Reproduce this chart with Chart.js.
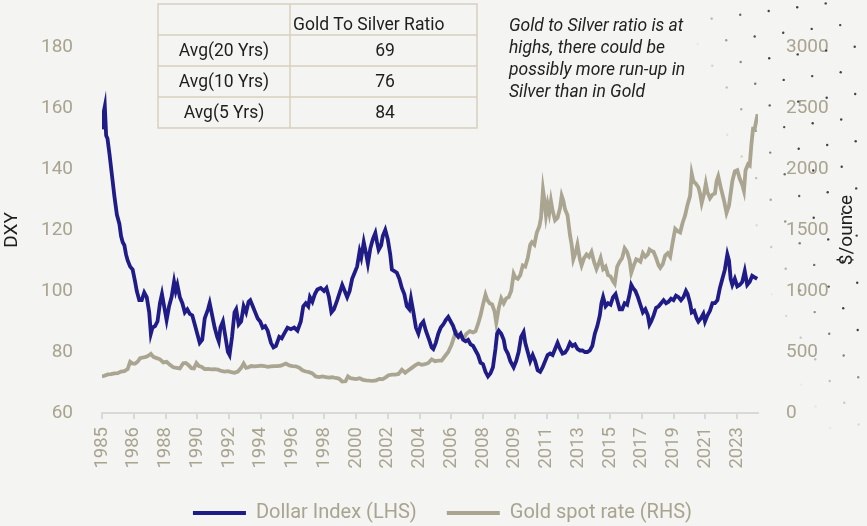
<!DOCTYPE html>
<html>
<head>
    <title></title>
    <meta charset="utf-8" />
    <style>
        body { margin: 0; background: #f4f4f2; }
        canvas { display: block; }
    </style>
    <script src="https://cdn.jsdelivr.net/npm/chart.js"></script>
</head>
<body>
    <canvas id="myChart" width="867" height="526"></canvas>
<script>
// values (decimal years)
let dxyYears = [1985.00, 1985.08, 1985.17, 1985.25, 1985.33, 1985.45, 1985.60, 1985.75, 1985.90, 1986.05, 1986.15, 1986.25, 1986.35, 1986.45, 1986.55, 1986.70, 1986.85, 1987.00, 1987.10, 1987.25, 1987.40, 1987.55, 1987.70, 1987.85, 1987.95, 1988.05, 1988.20, 1988.35, 1988.50, 1988.62, 1988.75, 1988.90, 1989.05, 1989.20, 1989.35, 1989.45, 1989.55, 1989.70, 1989.85, 1990.00, 1990.15, 1990.30, 1990.45, 1990.60, 1990.75, 1990.90, 1991.05, 1991.20, 1991.40, 1991.50, 1991.65, 1991.80, 1991.95, 1992.05, 1992.15, 1992.30, 1992.45, 1992.60, 1992.70, 1992.85, 1993.00, 1993.10, 1993.25, 1993.40, 1993.55, 1993.70, 1993.85, 1993.95, 1994.10, 1994.25, 1994.40, 1994.55, 1994.70, 1994.85, 1995.00, 1995.20, 1995.35, 1995.50, 1995.70, 1995.85, 1996.00, 1996.20, 1996.40, 1996.60, 1996.80, 1997.00, 1997.15, 1997.30, 1997.45, 1997.55, 1997.70, 1997.85, 1998.00, 1998.20, 1998.40, 1998.55, 1998.70, 1998.85, 1999.00, 1999.20, 1999.35, 1999.50, 1999.65, 1999.80, 1999.95, 2000.10, 2000.25, 2000.40, 2000.55, 2000.65, 2000.80, 2000.95, 2001.05, 2001.20, 2001.35, 2001.50, 2001.60, 2001.70, 2001.85, 2001.95, 2002.10, 2002.25, 2002.40, 2002.50, 2002.65, 2002.80, 2002.95, 2003.10, 2003.25, 2003.40, 2003.55, 2003.65, 2003.80, 2003.95, 2004.10, 2004.25, 2004.40, 2004.55, 2004.75, 2004.90, 2005.00, 2005.15, 2005.30, 2005.45, 2005.60, 2005.75, 2005.90, 2006.05, 2006.20, 2006.35, 2006.50, 2006.65, 2006.80, 2006.95, 2007.10, 2007.25, 2007.40, 2007.55, 2007.70, 2007.85, 2008.00, 2008.15, 2008.30, 2008.45, 2008.60, 2008.75, 2008.85, 2008.95, 2009.10, 2009.25, 2009.35, 2009.50, 2009.65, 2009.85, 2010.00, 2010.15, 2010.30, 2010.45, 2010.55, 2010.70, 2010.85, 2011.00, 2011.15, 2011.30, 2011.45, 2011.60, 2011.75, 2011.90, 2012.05, 2012.20, 2012.35, 2012.50, 2012.65, 2012.80, 2012.95, 2013.10, 2013.25, 2013.40, 2013.55, 2013.70, 2013.85, 2014.00, 2014.15, 2014.30, 2014.45, 2014.60, 2014.75, 2014.90, 2015.05, 2015.15, 2015.25, 2015.40, 2015.55, 2015.70, 2015.85, 2016.00, 2016.10, 2016.25, 2016.40, 2016.55, 2016.70, 2016.85, 2016.95, 2017.05, 2017.20, 2017.35, 2017.50, 2017.65, 2017.80, 2017.95, 2018.05, 2018.15, 2018.30, 2018.45, 2018.60, 2018.75, 2018.90, 2019.05, 2019.20, 2019.35, 2019.50, 2019.65, 2019.80, 2019.95, 2020.10, 2020.25, 2020.35, 2020.50, 2020.60, 2020.75, 2020.90, 2021.00, 2021.15, 2021.30, 2021.40, 2021.55, 2021.70, 2021.85, 2022.00, 2022.15, 2022.30, 2022.45, 2022.60, 2022.75, 2022.85, 2022.95, 2023.05, 2023.20, 2023.35, 2023.50, 2023.65, 2023.80, 2023.95, 2024.10, 2024.25, 2024.40, 2024.55];
let dxyValues = [153, 158, 160.5, 151, 150, 145, 138, 131, 125, 122, 118, 116, 115, 112, 110, 108, 107, 103, 100, 97, 97, 99.5, 98, 93, 86, 88, 88.5, 90, 96, 99, 95, 90.5, 95, 98, 103, 100, 102, 98, 96, 93, 94, 92.5, 92, 89, 86, 83, 84, 91, 94, 96, 92, 88, 85, 83.5, 88, 90, 85, 80, 79, 85, 93, 94, 89, 90, 95, 93, 96.5, 97, 95, 93, 91, 90, 88, 88.5, 87, 83, 81.5, 82, 85, 84.5, 86, 88, 87.5, 88, 87, 90, 95, 96, 95, 98, 96.5, 99, 100.5, 101, 100, 101, 98, 93, 94, 97, 99.5, 102, 100, 98, 100, 104, 106, 108, 113, 111, 116, 112, 109, 114, 117, 119, 116, 113.5, 115, 118, 120, 117, 112, 107, 106.5, 106, 104, 101, 99, 95, 94, 97.5, 93, 88, 86, 89, 90, 87, 84, 81.5, 81, 83, 86, 88, 89, 90.5, 91.5, 90, 88.5, 86, 85, 86, 84, 83.5, 84, 82.5, 82, 80.5, 79, 76.5, 76, 73.5, 72, 73, 75, 81, 86, 87, 86, 84, 81, 79.5, 77, 75, 77, 80, 85, 86.5, 83, 80, 77, 79, 77, 74, 73.5, 75, 77, 79, 79.5, 79, 81, 83, 81, 79.5, 79.8, 81, 83, 82, 82.5, 81, 80.5, 80.5, 80, 80, 80.5, 82, 86, 88.5, 92, 96, 98, 95, 96, 95.5, 98, 99, 97, 94, 94, 96, 95.5, 99, 102, 101, 100, 98, 95.5, 93, 94, 92, 89, 90, 92, 94.5, 95, 96, 97, 96, 96.5, 97.5, 97, 98.5, 98, 97, 98, 100, 99, 96, 93, 93.5, 91, 90, 91, 92.5, 90, 92, 93.5, 96, 96, 97, 101, 104, 107, 112, 110, 104, 102, 104, 101.5, 102, 103, 106.5, 102, 103, 105, 104.5, 104];

let goldYears = [1985.00, 1985.15, 1985.35, 1985.55, 1985.75, 1985.95, 1986.15, 1986.35, 1986.55, 1986.70, 1986.85, 1987.00, 1987.15, 1987.30, 1987.50, 1987.65, 1987.80, 1987.95, 1988.10, 1988.30, 1988.50, 1988.70, 1988.90, 1989.10, 1989.30, 1989.50, 1989.70, 1989.90, 1990.05, 1990.20, 1990.40, 1990.55, 1990.70, 1990.85, 1991.00, 1991.20, 1991.40, 1991.60, 1991.80, 1992.00, 1992.20, 1992.40, 1992.60, 1992.80, 1993.00, 1993.20, 1993.40, 1993.55, 1993.70, 1993.85, 1994.00, 1994.20, 1994.40, 1994.60, 1994.80, 1995.00, 1995.20, 1995.40, 1995.60, 1995.80, 1996.00, 1996.10, 1996.30, 1996.50, 1996.70, 1996.90, 1997.10, 1997.30, 1997.50, 1997.70, 1997.90, 1998.10, 1998.30, 1998.50, 1998.70, 1998.90, 1999.10, 1999.30, 1999.50, 1999.70, 1999.85, 2000.00, 2000.15, 2000.35, 2000.55, 2000.75, 2000.95, 2001.15, 2001.35, 2001.55, 2001.75, 2001.95, 2002.10, 2002.30, 2002.50, 2002.70, 2002.90, 2003.10, 2003.30, 2003.50, 2003.70, 2003.90, 2004.10, 2004.30, 2004.50, 2004.70, 2004.90, 2005.10, 2005.30, 2005.50, 2005.70, 2005.90, 2006.10, 2006.30, 2006.40, 2006.55, 2006.70, 2006.85, 2007.00, 2007.20, 2007.40, 2007.55, 2007.70, 2007.85, 2008.00, 2008.15, 2008.25, 2008.40, 2008.55, 2008.70, 2008.80, 2008.95, 2009.10, 2009.25, 2009.40, 2009.55, 2009.70, 2009.85, 2009.95, 2010.10, 2010.25, 2010.40, 2010.55, 2010.70, 2010.85, 2010.95, 2011.10, 2011.25, 2011.40, 2011.50, 2011.62, 2011.70, 2011.80, 2011.90, 2012.00, 2012.10, 2012.20, 2012.35, 2012.50, 2012.65, 2012.75, 2012.85, 2012.95, 2013.10, 2013.25, 2013.35, 2013.45, 2013.60, 2013.70, 2013.85, 2013.95, 2014.10, 2014.25, 2014.40, 2014.55, 2014.70, 2014.85, 2015.00, 2015.10, 2015.25, 2015.40, 2015.55, 2015.70, 2015.85, 2015.95, 2016.10, 2016.25, 2016.40, 2016.55, 2016.70, 2016.85, 2016.95, 2017.10, 2017.25, 2017.40, 2017.50, 2017.65, 2017.80, 2017.95, 2018.05, 2018.15, 2018.30, 2018.45, 2018.60, 2018.70, 2018.85, 2019.00, 2019.15, 2019.30, 2019.45, 2019.60, 2019.75, 2019.90, 2020.05, 2020.20, 2020.35, 2020.50, 2020.60, 2020.70, 2020.85, 2021.00, 2021.10, 2021.20, 2021.35, 2021.45, 2021.55, 2021.70, 2021.85, 2022.00, 2022.10, 2022.20, 2022.35, 2022.55, 2022.70, 2022.85, 2023.05, 2023.20, 2023.35, 2023.50, 2023.65, 2023.75, 2023.85, 2024.00, 2024.10, 2024.20, 2024.30, 2024.40, 2024.50, 2024.58];
let goldValues = [300, 305, 316, 318, 325, 327, 340, 343, 360, 420, 405, 405, 420, 450, 455, 460, 470, 485, 460, 450, 440, 415, 420, 395, 375, 370, 365, 408, 410, 395, 368, 365, 410, 385, 380, 360, 362, 358, 360, 355, 345, 340, 343, 335, 330, 340, 370, 405, 370, 375, 385, 382, 385, 388, 385, 378, 382, 385, 384, 388, 400, 405, 390, 385, 383, 372, 350, 340, 335, 325, 300, 295, 300, 295, 290, 293, 287, 282, 258, 260, 300, 285, 282, 278, 285, 272, 268, 265, 263, 268, 280, 278, 290, 310, 315, 315, 320, 355, 330, 350, 370, 390, 405, 395, 400, 410, 440, 425, 430, 430, 465, 500, 560, 640, 660, 620, 630, 615, 650, 670, 660, 670, 730, 800, 890, 970, 930, 900, 890, 830, 740, 860, 940, 900, 940, 950, 1000, 1140, 1110, 1100, 1130, 1210, 1200, 1270, 1380, 1400, 1380, 1480, 1530, 1600, 1830, 1750, 1620, 1710, 1640, 1740, 1660, 1580, 1600, 1680, 1780, 1740, 1670, 1620, 1460, 1380, 1260, 1320, 1380, 1260, 1210, 1270, 1300, 1280, 1320, 1240, 1180, 1230, 1270, 1180, 1200, 1130, 1120, 1080, 1060, 1200, 1240, 1270, 1350, 1320, 1250, 1150, 1210, 1260, 1250, 1240, 1310, 1280, 1300, 1340, 1330, 1320, 1270, 1210, 1190, 1220, 1290, 1310, 1280, 1400, 1510, 1490, 1480, 1560, 1620, 1710, 1780, 1960, 1900, 1880, 1850, 1800, 1720, 1800, 1880, 1810, 1760, 1790, 1800, 1900, 1940, 1850, 1740, 1640, 1700, 1900, 1980, 1990, 1920, 1870, 1820, 1990, 2040, 2030, 2200, 2330, 2330, 2400, 2450];

let xTickLabels = ['1985', '1986', '1988', '1990', '1992', '1994', '1996', '1998', '2000', '2002', '2004', '2006', '2008', '2009', '2011', '2013', '2015', '2017', '2019', '2021', '2023'];

let tableHeader = 'Gold To Silver Ratio';
let tableRows = ['Avg(20 Yrs)', 'Avg(10 Yrs)', 'Avg(5 Yrs)'];
let tableValues = ['69', '76', '84'];
let noteLines = ['Gold to Silver ratio is at', 'highs, there could be', 'possibly more run-up in', 'Silver than in Gold'];

let font = 'Roboto';
let khaki = '#a9a48f';
let navy = '#1f1c87';
let goldColor = '#aaa591';

function pts(xs, ys) { return xs.map((x, i) => ({ x: x, y: ys[i] })) }

// background, dots, table, note and axis titles
let extras = {
    id: 'extras',
    beforeDraw(chart) {
        let c = chart.ctx;
        c.save();
        c.fillStyle = '#f4f4f2';
        c.fillRect(0, 0, chart.width, chart.height);
        c.restore();
    },
    beforeDatasetsDraw(chart) {
        // faint dotted pattern on the right edge
        let c = chart.ctx;
        c.save();
        for (let i = -12; i < 14; i++) {
            for (let j = -4; j < 22; j++) {
                let x = 768.7 + i * 28.5 - j * 14;
                let y = 11 - i * 3.8 + j * 25.5;
                if (x < 0 || x > chart.width || y < 0 || y > 440) continue;
                let a = Math.min(1, Math.max(0, (x - 680 - 0.3 * y) / 70));
                a *= Math.min(1, Math.max(0, (450 - y) / 120));
                if (a <= 0) continue;
                c.globalAlpha = a * 0.85;
                c.fillStyle = '#222';
                c.beginPath();
                c.arc(x, y, 1.2, 0, Math.PI * 2);
                c.fill();
            }
        }
        c.restore();
    },
    afterDraw(chart) {
        let c = chart.ctx;
        let area = chart.chartArea;
        c.save();
        c.strokeStyle = '#d6d0bd';
        c.lineWidth = 1.5;
        let left = 158, mid = 290, right = 477;
        let rowsY = [4, 35, 66, 97, 128];
        c.strokeRect(left, rowsY[0], right - left, rowsY[4] - rowsY[0]);
        c.beginPath();
        c.moveTo(mid, rowsY[0]); c.lineTo(mid, rowsY[4]);
        for (let k = 1; k < 4; k++) { c.moveTo(left, rowsY[k]); c.lineTo(right, rowsY[k]); }
        c.stroke();
        c.fillStyle = '#1e1e1e';
        c.font = '17.5px ' + font;
        c.textBaseline = 'middle';
        c.textAlign = 'left';
        c.fillText(tableHeader, 293, 26);
        c.textAlign = 'center';
        tableRows.forEach((t, k) => {
            c.fillText(t, (left + mid) / 2, rowsY[k + 1] + 17);
            c.fillText(tableValues[k], 385, rowsY[k + 1] + 17);
        });
        c.textAlign = 'left';
        c.font = 'italic 17.5px ' + font;
        c.fillStyle = '#222';
        noteLines.forEach((t, k) => c.fillText(t, 509, 27 + k * 22));

        // axis titles, both reading bottom to top
        let midY = (area.top + area.bottom) / 2;
        c.fillStyle = '#1e1e1e';
        c.font = '19px ' + font;
        c.textAlign = 'center';
        [['DXY', 12], ['$/ounce', 847]].forEach(([t, x]) => {
            c.save();
            c.translate(x, midY);
            c.rotate(-Math.PI / 2);
            c.fillText(t, 0, 0);
            c.restore();
        });
        c.restore();
    }
};

let ctx = document.getElementById('myChart').getContext('2d');
let myChart = new Chart(ctx, {
    type: 'line',
    data: {
        datasets: [
            {
                label: 'Dollar Index (LHS)',
                data: pts(dxyYears, dxyValues),
                borderColor: navy,
                backgroundColor: navy,
                borderWidth: 3.8,
                pointRadius: 0,
                yAxisID: 'y'
            },
            {
                label: 'Gold spot rate (RHS)',
                data: pts(goldYears, goldValues),
                borderColor: goldColor,
                backgroundColor: goldColor,
                borderWidth: 3.8,
                pointRadius: 0,
                yAxisID: 'y1'
            }
        ]
    },
    options: {
        responsive: false,
        animation: false,
        layout: { padding: { top: 47, left: 18, right: 0, bottom: -7 } },
        plugins: {
            tooltip: { enabled: false },
            legend: {
                position: 'bottom',
                labels: {
                    boxWidth: 53,
                    boxHeight: 4,
                    padding: 30,
                    color: khaki,
                    font: { family: font, size: 20 },
                    generateLabels: chart => Chart.defaults.plugins.legend.labels.generateLabels(chart)
                        .map(l => Object.assign(l, { lineWidth: 0, fillStyle: l.strokeStyle }))
                }
            }
        },
        scales: {
            x: {
                type: 'linear',
                min: 1985,
                max: 2024.6,
                afterBuildTicks: axis => {
                    axis.ticks = xTickLabels.map((t, k) => ({ value: 1985 + k * 23 / 12 }));
                },
                afterFit: axis => { axis.height = 60; },
                ticks: {
                    autoSkip: false,
                    minRotation: 90,
                    maxRotation: 90,
                    padding: 8,
                    color: khaki,
                    font: { family: font, size: 18.5 },
                    callback: (v, i) => xTickLabels[i]
                },
                grid: { drawOnChartArea: false, drawTicks: true, tickLength: 6, color: '#d9d9d9', lineWidth: 2 },
                border: { color: '#d9d9d9', width: 2 }
            },
            y: {
                position: 'left',
                min: 60,
                max: 180,
                afterFit: axis => { axis.width = 84; },
                ticks: { stepSize: 20, padding: 21, color: khaki, font: { family: font, size: 19 } },
                grid: { display: false },
                border: { display: false }
            },
            y1: {
                position: 'right',
                min: 0,
                max: 3000,
                afterFit: axis => { axis.width = 109; },
                ticks: { stepSize: 500, padding: 20, color: khaki, font: { family: font, size: 19 }, callback: v => String(v) },
                grid: { display: false },
                border: { display: false }
            }
        }
    },
    plugins: [extras]
});
</script>
</body>
</html>
